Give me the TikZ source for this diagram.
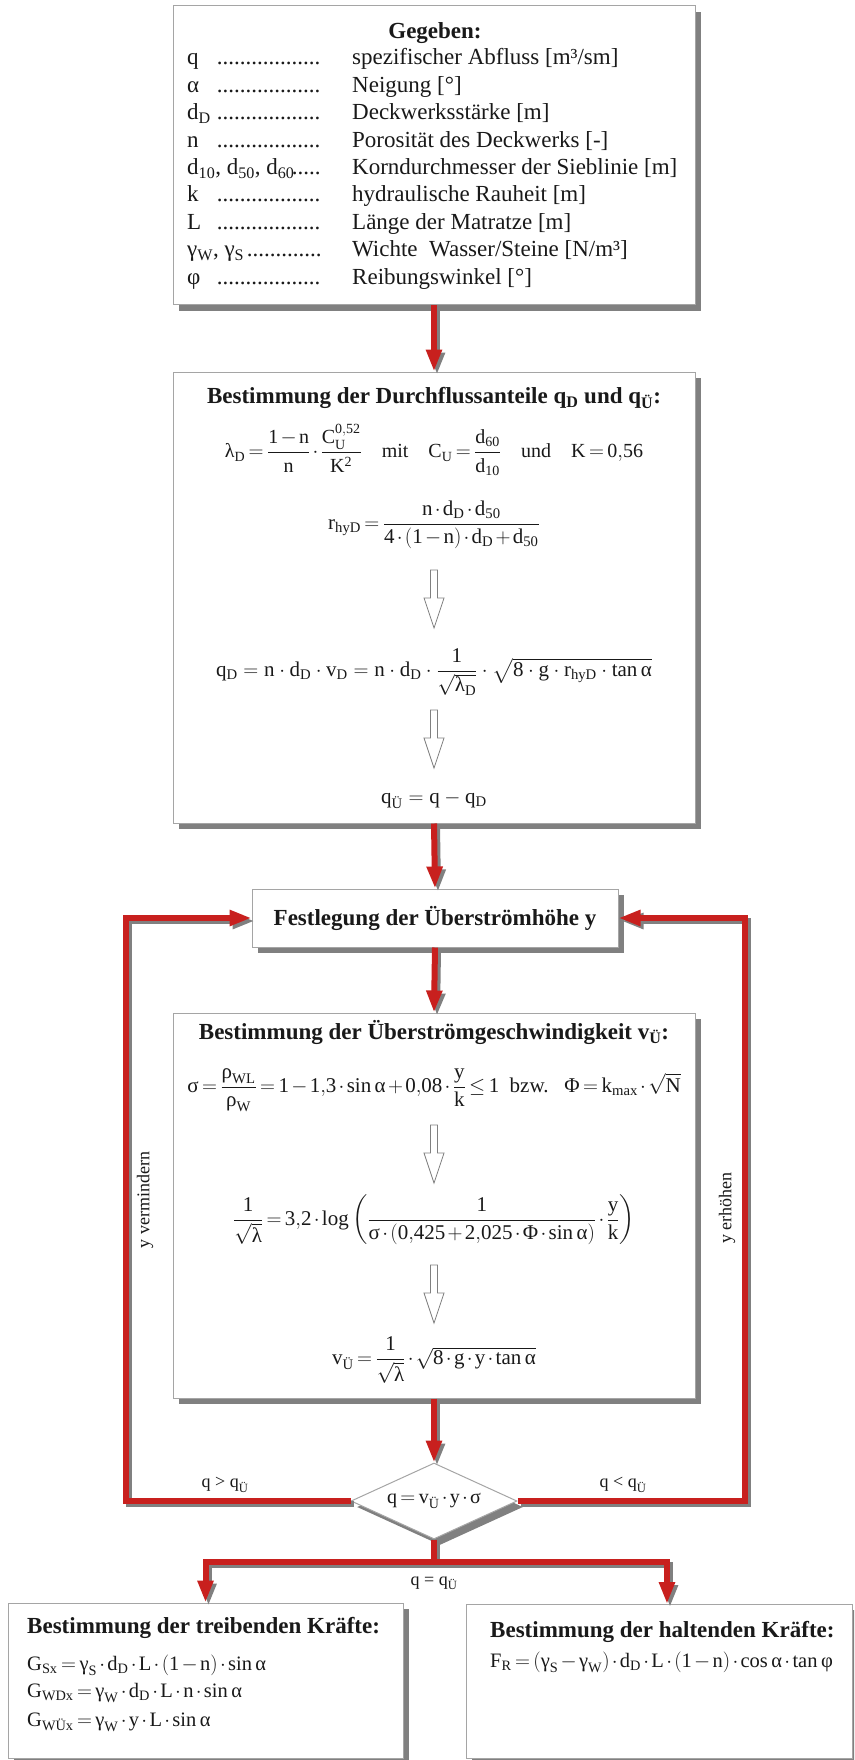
\documentclass[tikz,border=0pt]{standalone}
\usepackage{amsmath}
\usepackage{fontspec}
\setmainfont{Liberation Serif}
\usetikzlibrary{arrows.meta,shapes.geometric,shadows}

\definecolor{arrred}{RGB}{200,32,30}
\definecolor{shade}{RGB}{128,128,128}
\definecolor{boxline}{RGB}{165,165,165}
\definecolor{ink}{RGB}{25,25,25}

\newcommand{\xa}{\textnormal{α}}
\newcommand{\xl}{\textnormal{λ}}
\newcommand{\xs}{\textnormal{σ}}
\newcommand{\xr}{\textnormal{ρ}}
\newcommand{\xg}{\textnormal{γ}}
\newcommand{\xphi}{\textnormal{φ}}
\newcommand{\xPhi}{\textnormal{Φ}}
\newcommand{\Ue}{\text{Ü}}

\tikzset{
  frame/.style={draw=boxline, line width=1pt, fill=white, inner sep=0pt,
    drop shadow={shadow xshift=6pt, shadow yshift=-6pt, fill=shade, opacity=1}},
  ttl/.style={inner sep=0pt, text=ink, font=\fontsize{23}{27}\selectfont\bfseries},
  row/.style={inner sep=0pt, text=ink, font=\fontsize{23}{27}\selectfont},
  fml/.style={inner sep=0pt, text=ink, font=\fontsize{21}{25}\selectfont},
  tight/.style={execute at begin node={\medmuskip=2mu plus 1mu\thickmuskip=3mu plus 2mu}},
  lbl/.style={inner sep=0pt, text=ink, font=\fontsize{18}{21}\selectfont},
  hollow/.style={draw=shade, fill=white, line width=0.8pt, line join=miter},
  redl/.style={draw=arrred, line width=6pt, line join=miter},
  shl/.style={draw=shade, line width=6pt, line join=miter, transform canvas={xshift=3pt,yshift=-3pt}},
  tip/.style={-{Triangle[width=15pt,length=22pt]}},
}

\newcommand{\grow}[5]{%
  \node[row,anchor=base west] (#1s) at (187,#2) {#3};
  \node[row,anchor=base east] (#1d) at (325,#2) {\makebox[\dimexpr 325pt-#4pt\relax]{\leaders\hbox{.}\hfill}};
  \node[row,anchor=base west] (#1t) at (352,#2) {#5};
}
\newcommand{\hollowarrow}[1]{%
  \draw[hollow] (430.5,#1) -- (430.5,#1+28) -- (424,#1+28) -- (434,#1+58)
    -- (444,#1+28) -- (437.5,#1+28) -- (437.5,#1) -- cycle;
}

\begin{document}
\begin{tikzpicture}[x=1pt,y=-1pt]
\path[use as bounding box] (0,0) rectangle (854,1760);
\clip (0,0) rectangle (854,1760);
\fill[white] (0,0) rectangle (854,1760);

% ---------- box 1 ----------
\node[frame, minimum width=522pt, minimum height=299pt] (b1) at (434,155.5) {};
\node[ttl] (b1t) at (435,33) {Gegeben:};
\grow{r1}{65}{q}{217}{spezifischer Abfluss [m³/sm]}
\grow{r2}{92.4}{α}{217}{Neigung [°]}
\grow{r3}{119.8}{d\textsubscript{D}}{217}{Deckwerksstärke [m]}
\grow{r4}{147.2}{n}{217}{Porosität des Deckwerks [-]}
\grow{r5}{174.6}{d\textsubscript{10}, d\textsubscript{50}, d\textsubscript{60}}{292}{Korndurchmesser der Sieblinie [m]}
\grow{r6}{202}{k}{217}{hydraulische Rauheit [m]}
\grow{r7}{229.4}{L}{217}{Länge der Matratze [m]}
\grow{r8}{256.8}{γ\textsubscript{W}, γ\textsubscript{S}}{247}{Wichte\ \ Wasser/Steine [N/m³]}
\grow{r9}{284.2}{φ}{217}{Reibungswinkel [°]}

% ---------- box 2 ----------
\node[frame, minimum width=522pt, minimum height=451pt] (b2) at (434,597.5) {};
\node[ttl] (b2t) at (434,398) {Bestimmung der Durchflussanteile q\textsubscript{D} und q\textsubscript{Ü}:};
\node[fml, tight, font=\fontsize{20}{24}\selectfont] (f1) at (434,450) {$\mathrm{\xl_{D} = \dfrac{1-n}{n}\cdot\dfrac{C_{U}^{0{,}52}}{K^{2}}\quad \text{mit}\quad C_{U}=\dfrac{d_{60}}{d_{10}}\quad \text{und}\quad K=0{,}56}$};
\node[fml, tight] (f2) at (434,525) {$\mathrm{r_{hyD} = \dfrac{n\cdot d_{D}\cdot d_{50}}{4\cdot\left(1-n\right)\cdot d_{D}+d_{50}}}$};
\hollowarrow{570}
\node[fml] (f3) at (434,672) {$\mathrm{q_{D} = n\cdot d_{D}\cdot v_{D} = n\cdot d_{D}\cdot\dfrac{1}{\sqrt{\xl_{D}}}\cdot\sqrt{8\cdot g\cdot r_{hyD}\cdot\tan\xa}}$};
\hollowarrow{710}
\node[fml] (f4) at (434,800) {$\mathrm{q_{\Ue} = q - q_{D}}$};

% ---------- Festlegung ----------
\node[frame, ttl, minimum width=366pt, minimum height=58pt] (fest) at (435,918) {Festlegung der Überströmhöhe y};

% ---------- box 3 ----------
\node[frame, minimum width=522pt, minimum height=385pt] (b3) at (434,1205.5) {};
\node[ttl] (b3t) at (434,1032) {Bestimmung der Überströmgeschwindigkeit v\textsubscript{Ü}:};
\node[fml, tight] (g1) at (434,1090) {$\mathrm{\xs = \dfrac{\xr_{WL}}{\xr_{W}} = 1-1{,}3\cdot\sin\xa + 0{,}08\cdot\dfrac{y}{k}\le 1\ \ \text{bzw.}\ \ \ \xPhi = k_{max}\cdot\sqrt{N}}$};
\hollowarrow{1125}
\node[fml, tight] (g2) at (434,1220) {$\mathrm{\dfrac{1}{\sqrt{\xl}} = 3{,}2\cdot\log\left(\dfrac{1}{\xs\cdot\left(0{,}425+2{,}025\cdot\xPhi\cdot\sin\xa\right)}\cdot\dfrac{y}{k}\right)}$};
\hollowarrow{1265}
\node[fml, tight] (g3) at (434,1360) {$\mathrm{v_{\Ue} = \dfrac{1}{\sqrt{\xl}}\cdot\sqrt{8\cdot g\cdot y\cdot\tan\xa}}$};

% ---------- diamond ----------
\node[diamond, draw=boxline, line width=1pt, fill=white, inner sep=0pt, minimum width=166pt, minimum height=76pt,
  drop shadow={shadow xshift=6pt, shadow yshift=-6pt, fill=shade, opacity=1}] (dia) at (434,1501) {};
\node[fml, tight, font=\fontsize{20}{24}\selectfont] (diat) at (434,1501) {$\mathrm{q = v_{\Ue}\cdot y\cdot\xs}$};

% ---------- bottom boxes ----------
\node[frame, minimum width=395pt, minimum height=155pt] (b4) at (205.5,1680.5) {};
\node[ttl, anchor=west] (b4t) at (27,1628) {Bestimmung der treibenden Kräfte:};
\node[fml, tight, anchor=west, font=\fontsize{20.5}{24}\selectfont] (h1) at (27,1665) {$\mathrm{G_{Sx} = \xg_{S}\cdot d_{D}\cdot L\cdot(1-n)\cdot\sin\xa}$};
\node[fml, tight, anchor=west, font=\fontsize{20.5}{24}\selectfont] (h2) at (27,1693) {$\mathrm{G_{WDx} = \xg_{W}\cdot d_{D}\cdot L\cdot n\cdot\sin\xa}$};
\node[fml, tight, anchor=west, font=\fontsize{20.5}{24}\selectfont] (h3) at (27,1722) {$\mathrm{G_{W\Ue x} = \xg_{W}\cdot y\cdot L\cdot\sin\xa}$};

\node[frame, minimum width=386pt, minimum height=154pt] (b5) at (659,1681) {};
\node[ttl, anchor=west] (b5t) at (490,1632) {Bestimmung der haltenden Kräfte:};
\node[fml, tight, anchor=west, font=\fontsize{20.5}{24}\selectfont] (k1) at (490,1662) {$\mathrm{F_{R} = \left(\xg_{S}-\xg_{W}\right)\cdot d_{D}\cdot L\cdot(1-n)\cdot\cos\xa\cdot\tan\xphi}$};

% ---------- helper coordinates ----------
\coordinate (lc) at (126,918);
\coordinate (rc) at (745,918);
\coordinate (split) at (434,1562);
\coordinate (b5in) at (667,1604);

% ---------- connectors (shadow, then red) ----------
\foreach \s in {shl,redl}{
  \draw[\s,tip] (b1.south) -- (b2.north);
  \draw[\s,tip] (b2.south) -- (fest.north);
  \draw[\s,tip] (fest.south) -- (b3.north);
  \draw[\s,tip] (b3.south) -- (dia.north);
  \draw[\s,tip] (dia.west) -| (lc) -- (fest.west);
  \draw[\s,tip] (dia.east) -| (rc) -- (fest.east);
  \draw[\s] (dia.south) -- (split);
  \draw[\s,tip] (split) -| (b4.north);
  \draw[\s,tip] (split) -| (b5in);
}

% ---------- labels ----------
\node[lbl] (lgt) at (225,1485) {q > q\textsubscript{Ü}};
\node[lbl] (llt) at (623,1485) {q < q\textsubscript{Ü}};
\node[lbl] (leq) at (434,1583) {q = q\textsubscript{Ü}};
\node[lbl, rotate=90] (lvm) at (145,1200) {y vermindern};
\node[lbl, rotate=90] (ler) at (727,1208) {y erhöhen};
\end{tikzpicture}
\end{document}
